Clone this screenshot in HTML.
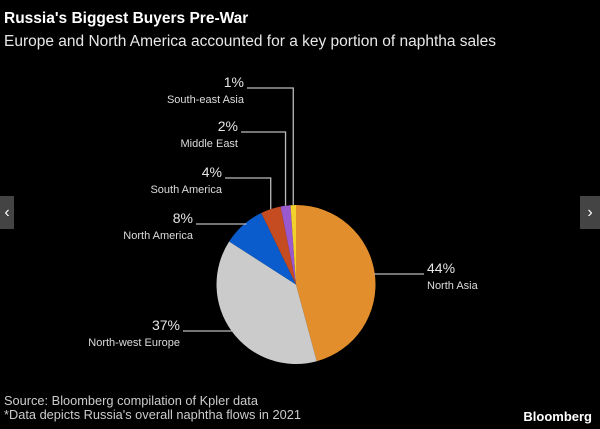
<!DOCTYPE html>
<html><head><meta charset="utf-8"><style>
html,body{margin:0;padding:0;background:#000;}
body{width:600px;height:429px;position:relative;overflow:hidden;font-family:"Liberation Sans",sans-serif;color:#e6e6e6;}
.t{position:absolute;white-space:nowrap;}
</style></head><body>
<div class="t" style="left:4px;top:10px;font-size:15.5px;font-weight:bold;color:#fff;">Russia's Biggest Buyers Pre-War</div>
<div class="t" style="left:4px;top:33px;font-size:15.5px;color:#e8e8e8;">Europe and North America accounted for a key portion of naphtha sales</div>
<svg id="chart" width="600" height="429" style="position:absolute;left:0;top:0" font-family="Liberation Sans, sans-serif"></svg>
<div style="position:absolute;left:0;top:196px;width:14px;height:33px;background:#444;color:#fff;font-size:16px;line-height:33px;text-align:center;">‹</div>
<div style="position:absolute;left:580px;top:196px;width:20px;height:33px;background:#444;color:#fff;font-size:16px;line-height:33px;text-align:center;">›</div>
<div class="t" style="left:4px;top:393px;font-size:12.8px;color:#ccc;">Source: Bloomberg compilation of Kpler data</div>
<div class="t" style="left:4px;top:407px;font-size:12.8px;color:#ccc;">*Data depicts Russia's overall naphtha flows in 2021</div>
<div class="t" style="right:8px;top:409px;font-size:13px;font-weight:bold;color:#fff;">Bloomberg</div>
<script>
const categories=["North Asia","North-west Europe","North America","South America","Middle East","South-east Asia"];
const values=[45.8,38.3,8.7,4.1,2.0,1.1];
const printed=["44%","37%","8%","4%","2%","1%"];
const colors=["#e28e2c","#cbcbcb","#0a5ccc","#c54b21","#9b59d0","#f2d22a"];
const svg=document.getElementById('chart');
const NS='http://www.w3.org/2000/svg';
const cx=296,cy=284.5,r=79.5;
const total=values.reduce((a,b)=>a+b,0);
function pt(a,rr){return [cx+rr*Math.sin(a),cy-rr*Math.cos(a)];}
let a0=0;const mids=[];
values.forEach((v,i)=>{
  const a1=a0+v/total*2*Math.PI;
  const p0=pt(a0,r),p1=pt(a1,r);
  const large=(a1-a0)>Math.PI?1:0;
  const p=document.createElementNS(NS,'path');
  p.setAttribute('d',`M${cx},${cy}L${p0[0]},${p0[1]}A${r},${r} 0 ${large} 1 ${p1[0]},${p1[1]}Z`);
  p.setAttribute('fill',colors[i]);
  
  
  svg.appendChild(p);
  mids.push((a0+a1)/2);
  a0=a1;
});
const layout=[
 {ly:274,anchor:'start',tx:427,kind:'right'},
 {ly:331,anchor:'end',tx:180,kind:'left'},
 {ly:224,anchor:'end',tx:193,kind:'left'},
 {ly:178,anchor:'end',tx:222,kind:'up'},
 {ly:132,anchor:'end',tx:238,kind:'up'},
 {ly:88,anchor:'end',tx:244,kind:'up'}
];
layout.forEach((L,i)=>{
  const m=mids[i];
  const edge=pt(m,r);
  const line=document.createElementNS(NS,'polyline');
  let pts;
  if(L.kind==='up'){
    const ex=edge[0],ey=cy-Math.sqrt(Math.max(0,r*r-(ex-cx)*(ex-cx)));
    pts=`${L.tx+3},${L.ly} ${ex},${L.ly} ${ex},${ey}`;
  }else if(L.kind==='left'){
    const ex=cx-Math.sqrt(Math.max(0,r*r-(L.ly-cy)*(L.ly-cy)));
    pts=`${L.tx+3},${L.ly} ${ex+2},${L.ly}`;
  }else{
    const ex=cx+Math.sqrt(Math.max(0,r*r-(L.ly-cy)*(L.ly-cy)));
    pts=`${ex-1},${L.ly} ${L.tx-3},${L.ly}`;
  }
  line.setAttribute('points',pts);
  line.setAttribute('fill','none');
  line.setAttribute('stroke','#bbb');
  line.setAttribute('stroke-width','1.3');
  
  
  svg.appendChild(line);
  const t1=document.createElementNS(NS,'text');
  t1.setAttribute('x',L.tx);t1.setAttribute('y',L.ly-1);
  t1.setAttribute('text-anchor',L.anchor);
  t1.setAttribute('font-size','14');t1.setAttribute('fill','#e6e6e6');
  t1.textContent=printed[i];
  
  
  svg.appendChild(t1);
  const t2=document.createElementNS(NS,'text');
  t2.setAttribute('x',L.tx);t2.setAttribute('y',L.ly+15);
  t2.setAttribute('text-anchor',L.anchor);
  t2.setAttribute('font-size','11');t2.setAttribute('fill','#dcdcdc');
  t2.textContent=categories[i];
  
  
  svg.appendChild(t2);
});
</script>
</body></html>
